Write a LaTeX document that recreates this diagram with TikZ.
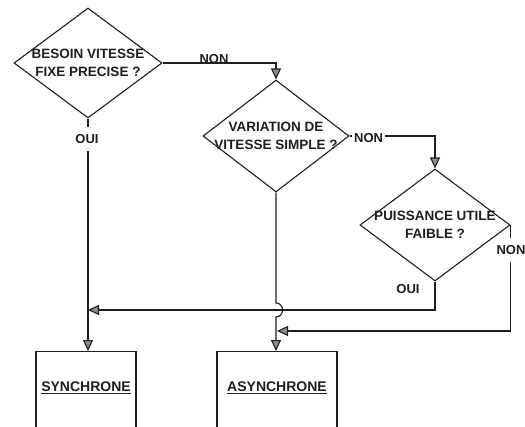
\documentclass[tikz,border=0pt]{standalone}
\usepackage{fontspec}
\setmainfont{Liberation Sans}
\usetikzlibrary{arrows.meta,positioning,calc,shapes.geometric}
\definecolor{FCCanvas}{HTML}{FFFFFF}
\definecolor{FCInk}{HTML}{1E1E1E}
\definecolor{FCTip}{HTML}{8C8C8C}
\tikzset{
  flow/.style={-{Triangle[length=11pt,width=10pt,fill=FCTip]},FCInk,line width=1.1pt},
  test/.style={diamond,draw=FCInk,line width=1.1pt,inner sep=0pt},
  outcome/.style={rectangle,draw=FCInk,line width=1.1pt,anchor=north,minimum height=120pt},
  question/.style={text=FCInk,font=\fontsize{13.5}{17.5}\selectfont\bfseries,align=center},
  answer/.style={text=FCInk,font=\fontsize{13}{14}\selectfont\bfseries,inner sep=1pt},
  answercut/.style={answer,fill=FCCanvas,inner xsep=2pt,inner ysep=7pt},
  result/.style={text=FCInk,font=\fontsize{14}{16}\selectfont\bfseries},
}
\begin{document}
\begin{tikzpicture}[x=1pt,y=-1pt]
    \useasboundingbox (0,0) rectangle (525,426);
    \clip (0,0) rectangle (525,426);

    % questions
    \node[test,minimum width=148pt,minimum height=110pt] (fixe) at (88,63) {};
    \node[question] at (fixe.center) {BESOIN VITESSE\\FIXE PRECISE ?};
    \node[test,minimum width=146pt,minimum height=112pt] (simple) at (276,136) {};
    \node[question] at (simple.center) {VARIATION DE\\VITESSE SIMPLE ?};
    \node[test,minimum width=150pt,minimum height=112pt] (faible) at (435,225) {};
    \node[question] at (faible.center) {PUISSANCE UTILE\\FAIBLE ?};

    % motors
    \node[outcome,minimum width=100pt] (sync) at (86,351) {};
    \node[result] at ([yshift=-37pt]sync.north) {\underline{SYNCHRONE}};
    \node[outcome,minimum width=120pt] (async) at (277,351) {};
    \node[result] at ([yshift=-37pt]async.north) {\underline{ASYNCHRONE}};

    \coordinate (joinA) at (88,310);
    \coordinate (joinB) at (277,331);

    % answers
    \draw[flow] (fixe.east) -| (simple.north);
    \draw[flow] (fixe.south) -- (fixe.south |- sync.north);
    \draw[flow] (simple.east) -| (faible.north);
    \draw[flow] (simple.south) -- ($(simple.south |- joinA)+(0,-7)$)
      to[out=0,in=0,looseness=1.6] ($(simple.south |- joinA)+(0,7)$)
      -- (simple.south |- async.north);
    \draw[flow] (faible.south) |- (joinA);
    \draw[flow] (faible.east) |- (joinB);

    \node[answer,anchor=base] at (214,63) {NON};
    \node[answercut] at (87,139) {OUI};
    \node[answercut,anchor=west] at (352,138) {NON};
    \node[answer] at (408,289) {OUI};
    \node[answercut] at (511,250) {NON};
  \end{tikzpicture}
\end{document}
